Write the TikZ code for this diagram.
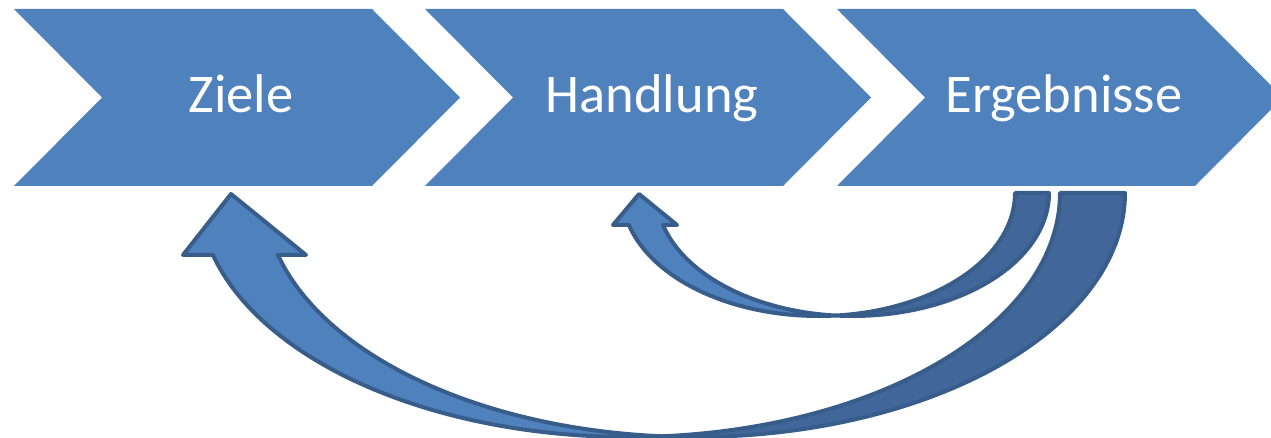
\documentclass[tikz,border=0pt]{standalone}
\usepackage{fontspec}
\setmainfont{Carlito}
\definecolor{chevblue}{HTML}{4F81BD}
\definecolor{backblue}{HTML}{41679A}
\definecolor{edgeblue}{HTML}{385D8A}

\begin{document}
\begin{tikzpicture}[x=1pt,y=-1pt,
  chevronshape/.style={fill=chevblue},
  steptext/.style={text=white,font=\fontsize{54.5}{60}\selectfont,anchor=base,inner sep=0pt},
  front/.style={fill=chevblue,draw=edgeblue,line width=4pt,line join=round},
  back/.style={fill=backblue,draw=edgeblue,line width=4pt,line join=round},
  arcplot/.style={domain=#1,samples=70,variable=\t}]

\useasboundingbox (0,0) rectangle (1271,438);
\clip (0,0) rectangle (1271,438);

% process chevrons
\foreach \l in {14,425,837}{
  \path[chevronshape] (\l,9) -- ({\l+358},9) -- ({\l+446},97.5) -- ({\l+358},186)
        -- (\l,186) -- ({\l+88},97.5) -- cycle;
}
\node[steptext] (ziele)    at (241,113)  {Ziele};
\node[steptext] (handlung) at (652,113)  {Handlung};
\node[steptext] (ergeb)    at (1064,113) {Ergebnisse};

% large return arrow: Ergebnisse -> Ziele
\path[back]
  plot[arcplot=0:94.31] ({694.4+430.6*cos(\t)},{193+244*sin(\t)})
  -- plot[arcplot=85.66:0] ({629.4+430.6*cos(\t)},{193+244*sin(\t)})
  -- cycle;
\path[front]
  plot[arcplot=165.28:85.66] ({629.4+430.6*cos(\t)},{193+244*sin(\t)})
  -- plot[arcplot=94.31:165.28] ({694.4+430.6*cos(\t)},{193+244*sin(\t)})
  -- (306,255) -- (231,194) -- (183,255) -- cycle;

% small return arrow: Ergebnisse -> Handlung
\path[back]
  plot[arcplot=0:94.97] ({852.6+196.4*cos(\t)},{193+123*sin(\t)})
  -- plot[arcplot=85.03:0] ({818.6+196.4*cos(\t)},{193+123*sin(\t)})
  -- cycle;
\path[front]
  plot[arcplot=164.92:85.03] ({818.6+196.4*cos(\t)},{193+123*sin(\t)})
  -- plot[arcplot=94.97:164.92] ({852.6+196.4*cos(\t)},{193+123*sin(\t)})
  -- (677,225) -- (639,194) -- (613,225) -- cycle;
\end{tikzpicture}
\end{document}
